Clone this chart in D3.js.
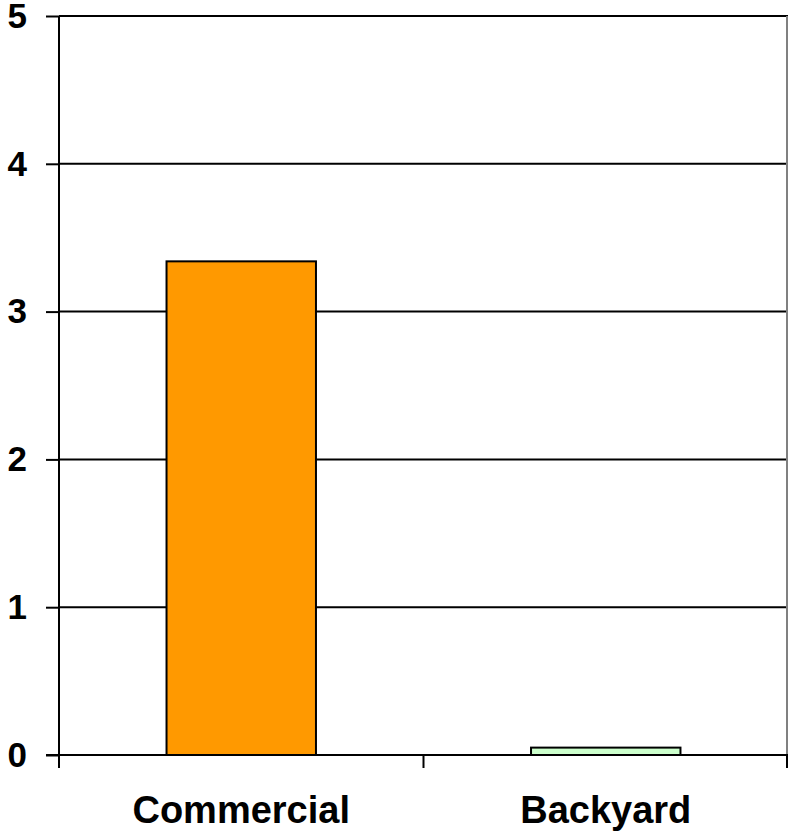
<!DOCTYPE html>
<html><head><meta charset="utf-8">
<script src="https://cdn.jsdelivr.net/npm/d3@7"></script>
<style>body{margin:0;background:#fff}svg{display:block}</style>
</head><body>
<script>
const categories = ["Commercial", "Backyard"];
const values = [3.34, 0.05];
const colors = ["#FF9900", "#CCFFCC"];
const yTicks = [0, 1, 2, 3, 4, 5];

const W = 789, H = 833;
const m = {left: 59, right: 1, top: 16, bottom: 78};
const svg = d3.select("body").append("svg").attr("width", W).attr("height", H);

const x = d3.scaleBand().domain(categories).range([m.left, W - m.right]).paddingInner(0.59).paddingOuter(0.295);
const y = d3.scaleLinear().domain([0, 5]).range([H - m.bottom, m.top]);

// gridlines
svg.append("g").selectAll("line").data(yTicks.filter(d => d > 0)).join("line")
  .attr("x1", m.left).attr("x2", W - m.right)
  .attr("y1", d => y(d)).attr("y2", d => y(d))
  .attr("stroke", "#000").attr("stroke-width", 2);

// right border
svg.append("line").attr("x1", W - m.right - 1).attr("x2", W - m.right - 1)
  .attr("y1", y(5)).attr("y2", y(0)).attr("stroke", "#808080").attr("stroke-width", 2);

// bars
svg.append("g").selectAll("rect").data(values).join("rect")
  .attr("x", (d, i) => x(categories[i]))
  .attr("width", x.bandwidth())
  .attr("y", d => y(d))
  .attr("height", d => y(0) - y(d))
  .attr("fill", (d, i) => colors[i])
  .attr("stroke", "#000").attr("stroke-width", 2);

// y axis
const yAxis = d3.axisLeft(y).tickValues(yTicks).tickSize(13).tickPadding(19).tickFormat(d3.format("d"));
const gy = svg.append("g").attr("transform", `translate(${m.left},0)`).call(yAxis);
gy.select(".domain").attr("stroke", "#000").attr("stroke-width", 2).attr("d", `M0,${y(5)}V${y(0)}`);
gy.selectAll(".tick line").attr("stroke", "#000").attr("stroke-width", 2);
gy.selectAll(".tick text").attr("fill", "#000")
  .style("font-family", "'Liberation Sans', Arial, sans-serif")
  .style("font-weight", "bold").style("font-size", "35px");

// x axis
const xBoundary = d3.scaleLinear().domain([0, categories.length]).range([m.left, W - m.right]);
const gx = svg.append("g").attr("transform", `translate(0,${y(0)})`);
gx.append("line").attr("x1", m.left - 13).attr("x2", W - m.right).attr("y1", 0).attr("y2", 0)
  .attr("stroke", "#000").attr("stroke-width", 2);
gx.selectAll(".xt").data(d3.range(categories.length + 1)).join("line").attr("class", "xt")
  .attr("x1", d => xBoundary(d) - (d === categories.length ? 1 : 0)).attr("x2", d => xBoundary(d) - (d === categories.length ? 1 : 0))
  .attr("y1", 0).attr("y2", 13).attr("stroke", "#000").attr("stroke-width", 2);
gx.selectAll("text").data(categories).join("text")
  .attr("x", d => x(d) + x.bandwidth() / 2)
  .attr("y", 68)
  .attr("text-anchor", "middle")
  .style("font-family", "'Liberation Sans', Arial, sans-serif")
  .style("font-weight", "bold").style("font-size", "38px")
  .text(d => d);
</script>
</body></html>
